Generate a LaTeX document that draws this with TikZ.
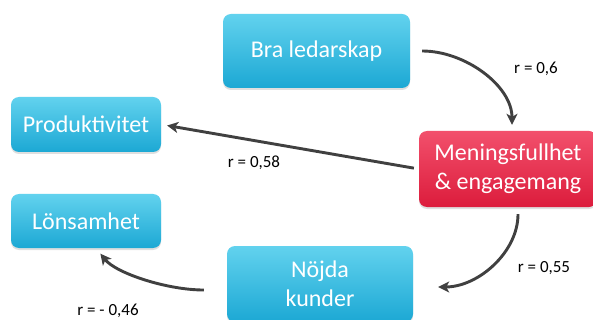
\documentclass[tikz,border=0pt]{standalone}
\usepackage{fontspec}
\setmainfont{Carlito}
\usetikzlibrary{shadows,arrows.meta}
\definecolor{cyantop}{HTML}{62D2EE}
\definecolor{cyanbot}{HTML}{1CA8D4}
\definecolor{redtop}{HTML}{F2506C}
\definecolor{redbot}{HTML}{DC1C3C}
\definecolor{arrowgray}{HTML}{404040}
\begin{document}
\begin{tikzpicture}[x=1pt,y=-1pt,
  boxbase/.style={rounded corners=8pt, draw=none, text=white, inner sep=0pt, align=center,
    font=\fontsize{24}{29}\selectfont,
    drop shadow={shadow xshift=0pt, shadow yshift=-2pt, opacity=0.25}},
  bluebox/.style={boxbase, top color=cyantop, bottom color=cyanbot},
  redbox/.style={boxbase, top color=redtop, bottom color=redbot},
  conn/.style={draw=arrowgray, line width=2.9pt, -{Stealth[length=11pt,width=11pt,inset=3pt]}},
  rlabel/.style={font=\fontsize{17}{19}\selectfont, text=black, inner sep=0pt}]
\useasboundingbox (0,0) rectangle (593,320);
\fill[white] (0,0) rectangle (593,320);

\node[bluebox, minimum width=187pt, minimum height=74pt] (bra) at (316.5,51) {Bra ledarskap};
\node[redbox, minimum width=178pt, minimum height=76pt] (mening) at (508,169) {Meningsfullhet\\\& engagemang};
\node[bluebox, minimum width=150pt, minimum height=55pt] (prod) at (86,124.5) {Produktivitet};
\node[bluebox, minimum width=150pt, minimum height=54pt] (lons) at (86,221) {Lönsamhet};
\node[bluebox, minimum width=186pt, minimum height=76pt] (nojda) at (320,284) {Nöjda\\kunder};

\draw[conn, shorten <=12pt, shorten >=6pt] (bra.east) .. controls +(55,0) and +(0,-45) .. ([xshift=4pt]mening.north);
\draw[conn, shorten <=5pt, shorten >=6pt] (mening.west) -- (prod.east);
\draw[conn, shorten <=7pt] ([xshift=10pt]mening.south) .. controls +(0,45) and +(40,0) .. ([xshift=25pt,yshift=-3pt]nojda.east);
\draw[conn, shorten <=23pt, shorten >=7pt] ([yshift=-6pt]nojda.west) .. controls +(-60,0) and +(20,25) .. ([xshift=10pt]lons.south);

\node[rlabel] (l1) at (536,69) {r = 0,6};
\node[rlabel] (l2) at (254,163) {r = 0,58};
\node[rlabel] (l3) at (544,268) {r = 0,55};
\node[rlabel] (l4) at (108,311) {r = - 0,46};
\end{tikzpicture}
\end{document}
